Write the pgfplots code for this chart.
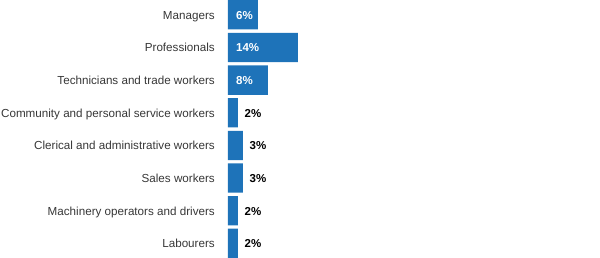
\documentclass[border=0pt]{standalone}
\usepackage{fontspec}
\setmainfont{Liberation Sans}
\usepackage{pgfplots}
\pgfplotsset{compat=1.18}
\definecolor{barblue}{RGB}{30,115,185}
\definecolor{labgray}{RGB}{55,55,55}
\begin{document}
\fontsize{11.65bp}{13bp}\selectfont
\begin{tikzpicture}
\begin{axis}[
  at={(0,0)}, anchor=south west,
  scale only axis, width=372bp, height=258bp,
  xmin=0, xmax=74.4,
  ymin=-0.454, ymax=7.448, y dir=reverse,
  axis line style={draw=none},
  tick style={draw=none},
  xtick=\empty,
  ytick={0,1,2,3,4,5,6,7},
  yticklabels={Managers,Professionals,Technicians and trade workers,Community and personal service workers,Clerical and administrative workers,Sales workers,Machinery operators and drivers,Labourers},
  yticklabel style={anchor=base east, inner sep=0pt, xshift=-13bp, yshift=-4.5bp, text=labgray, font=\fontsize{11.65bp}{13bp}\selectfont},
  clip=false,
]
\addplot[xbar, bar width=29.3bp, bar shift=0pt, fill=barblue, draw=none] coordinates {
  (6,0) (14,1) (8,2) (2,3) (3,4) (3,5) (2,6) (2,7)
};
% labels inside bars
\addplot[only marks, mark=none, point meta=explicit symbolic,
  nodes near coords,
  every node near coord/.append style={anchor=base west, inner sep=0pt, xshift=8bp, yshift=-4.5bp, text=white, font=\bfseries\fontsize{11.5bp}{13bp}\selectfont}]
  coordinates {
  (0,0) [6\%] (0,1) [14\%] (0,2) [8\%]
};
% labels outside bars
\addplot[only marks, mark=none, point meta=explicit symbolic,
  nodes near coords,
  every node near coord/.append style={anchor=base west, inner sep=0pt, xshift=6.5bp, yshift=-4.5bp, text=black, font=\bfseries\fontsize{11.5bp}{13bp}\selectfont}]
  coordinates {
  (2,3) [2\%] (3,4) [3\%] (3,5) [3\%] (2,6) [2\%] (2,7) [2\%]
};
\end{axis}
\pgfresetboundingbox
\path (-228bp,0) rectangle (372bp,258bp);
\end{tikzpicture}
\end{document}
